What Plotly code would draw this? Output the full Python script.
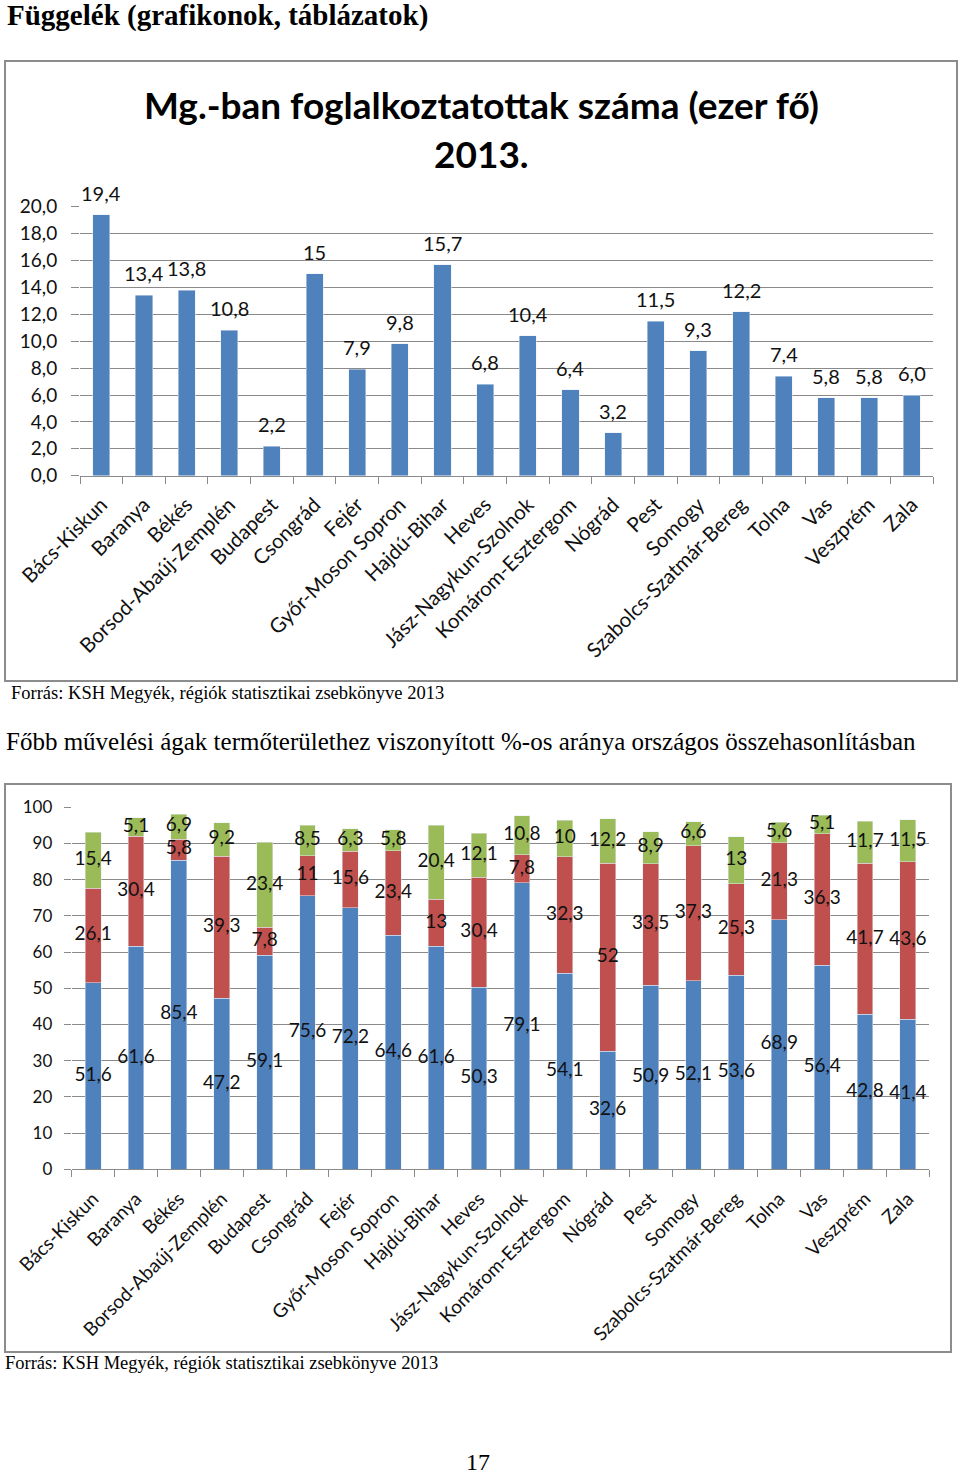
import plotly.graph_objects as go

W, H = 960, 1474

counties = ["Bács-Kiskun", "Baranya", "Békés", "Borsod-Abaúj-Zemplén", "Budapest",
            "Csongrád", "Fejér", "Győr-Moson Sopron", "Hajdú-Bihar", "Heves",
            "Jász-Nagykun-Szolnok", "Komárom-Esztergom", "Nógrád", "Pest", "Somogy",
            "Szabolcs-Szatmár-Bereg", "Tolna", "Vas", "Veszprém", "Zala"]

employed = [19.4, 13.4, 13.8, 10.8, 2.2, 15, 7.9, 9.8, 15.7, 6.8,
            10.4, 6.4, 3.2, 11.5, 9.3, 12.2, 7.4, 5.8, 5.8, 6.0]
employed_labels = ["19,4", "13,4", "13,8", "10,8", "2,2", "15", "7,9", "9,8", "15,7", "6,8",
                   "10,4", "6,4", "3,2", "11,5", "9,3", "12,2", "7,4", "5,8", "5,8", "6,0"]

blue = [51.6, 61.6, 85.4, 47.2, 59.1, 75.6, 72.2, 64.6, 61.6, 50.3,
        79.1, 54.1, 32.6, 50.9, 52.1, 53.6, 68.9, 56.4, 42.8, 41.4]
red = [26.1, 30.4, 5.8, 39.3, 7.8, 11, 15.6, 23.4, 13, 30.4,
       7.8, 32.3, 52, 33.5, 37.3, 25.3, 21.3, 36.3, 41.7, 43.6]
green = [15.4, 5.1, 6.9, 9.2, 23.4, 8.5, 6.3, 5.8, 20.4, 12.1,
         10.8, 10, 12.2, 8.9, 6.6, 13, 5.6, 5.1, 11.7, 11.5]

y1_ticks = [0, 2, 4, 6, 8, 10, 12, 14, 16, 18, 20]
y2_ticks = [0, 10, 20, 30, 40, 50, 60, 70, 80, 90, 100]


def fmt(v):
    s = ("%.1f" % v).rstrip("0").rstrip(".")
    return s.replace(".", ",")


def PX(x):
    return x / W


def PY(y):
    return 1 - y / H


C_BLUE, C_RED, C_GREEN = "#4F81BD", "#C0504D", "#9BBB59"
GRID = "#8a8a8a"
FONT = "Lato"
SERIF = "Liberation Serif"
N = len(counties)

fig = go.Figure()

# Chart 1
fig.add_trace(go.Bar(x=counties, y=employed, marker_color=C_BLUE, width=0.4,
                     xaxis="x", yaxis="y", showlegend=False, hoverinfo="skip"))

# Chart 2 (stacked)
for vals, col in [(blue, C_BLUE), (red, C_RED), (green, C_GREEN)]:
    fig.add_trace(go.Bar(x=counties, y=vals, marker_color=col, width=0.37,
                         xaxis="x2", yaxis="y2", showlegend=False, hoverinfo="skip"))

# Chart 2 segment labels
base = [0.0] * N
for vals in [blue, red, green]:
    mids = [b + v / 2 for b, v in zip(base, vals)]
    fig.add_trace(go.Scatter(x=counties, y=mids, mode="text", text=[fmt(v) for v in vals],
                             textfont=dict(family=FONT, size=19, color="#111"),
                             textposition="middle center", xaxis="x2", yaxis="y2",
                             showlegend=False, hoverinfo="skip", cliponaxis=False))
    base = [b + v for b, v in zip(base, vals)]

annotations = []
for c, v, t in zip(counties, employed, employed_labels):
    annotations.append(dict(x=c, y=v, xref="x", yref="y", text=t, showarrow=False,
                            yanchor="middle", yshift=22,
                            font=dict(family=FONT, size=20, color="#111")))

# Page texts
annotations += [
    dict(x=PX(5), y=PY(15), xref="paper", yref="paper", xanchor="left", yanchor="middle",
         text="<b>Függelék (grafikonok, táblázatok)</b>", showarrow=False,
         font=dict(family=SERIF, size=29, color="#000")),
    dict(x=PX(481), y=PY(104), xref="paper", yref="paper", xanchor="center", yanchor="middle",
         text="<b>Mg.-ban foglalkoztatottak száma (ezer fő)</b>", showarrow=False,
         font=dict(family=FONT, size=37, color="#000")),
    dict(x=PX(481), y=PY(153), xref="paper", yref="paper", xanchor="center", yanchor="middle",
         text="<b>2013.</b>", showarrow=False,
         font=dict(family=FONT, size=37, color="#000")),
    dict(x=PX(9), y=PY(693), xref="paper", yref="paper", xanchor="left", yanchor="middle",
         text="Forrás: KSH Megyék, régiók statisztikai zsebkönyve 2013", showarrow=False,
         font=dict(family=SERIF, size=18.5, color="#000")),
    dict(x=PX(4), y=PY(741), xref="paper", yref="paper", xanchor="left", yanchor="middle",
         text="Főbb művelési ágak termőterülethez viszonyított %-os aránya országos összehasonlításban",
         showarrow=False, font=dict(family=SERIF, size=25, color="#000")),
    dict(x=PX(3), y=PY(1363), xref="paper", yref="paper", xanchor="left", yanchor="middle",
         text="Forrás: KSH Megyék, régiók statisztikai zsebkönyve 2013", showarrow=False,
         font=dict(family=SERIF, size=18.5, color="#000")),
    dict(x=PX(478), y=PY(1462), xref="paper", yref="paper", xanchor="center", yanchor="middle",
         text="17", showarrow=False, font=dict(family=SERIF, size=24, color="#000")),
]

shapes = [
    dict(type="rect", xref="paper", yref="paper", x0=PX(5), x1=PX(957), y0=PY(681), y1=PY(61),
         line=dict(color="#8c8c8c", width=2)),
    dict(type="rect", xref="paper", yref="paper", x0=PX(5), x1=PX(951), y0=PY(1352), y1=PY(784),
         line=dict(color="#8c8c8c", width=2)),
]

fig.update_layout(
    width=W, height=H, margin=dict(l=0, r=0, t=0, b=0, pad=0, autoexpand=False),
    paper_bgcolor="white", plot_bgcolor="white",
    barmode="stack", separators=", ",
    annotations=annotations, shapes=shapes,
    xaxis=dict(domain=[PX(80), PX(933)], anchor="y", type="category", automargin=False,
               range=[-0.5, N - 0.5],
               tickangle=-45, tickfont=dict(family=FONT, size=20.5, color="#111"),
               showline=True, linecolor=GRID, linewidth=1, ticks="outside", ticklen=7,
               tickcolor=GRID, tickson="boundaries", showgrid=False, fixedrange=True,
               ticklabelstandoff=8),
    yaxis=dict(domain=[PY(475.7), PY(206.7)], anchor="x", range=[0, 20], automargin=False,
               tickvals=y1_ticks, tickformat=".1f",
               tickfont=dict(family=FONT, size=19, color="#111"),
               showgrid=True, gridcolor=GRID, gridwidth=1, zeroline=False,
               showline=False, ticks="outside", ticklen=8, tickcolor=GRID,
               ticklabelstandoff=10, fixedrange=True),
    xaxis2=dict(domain=[PX(71.7), PX(929.3)], anchor="y2", type="category", automargin=False,
                range=[-0.5, N - 0.5],
                tickangle=-45, tickfont=dict(family=FONT, size=19, color="#111"),
                showline=True, linecolor=GRID, linewidth=1, ticks="outside", ticklen=7,
                tickcolor=GRID, tickson="boundaries", showgrid=False, fixedrange=True,
                ticklabelstandoff=10),
    yaxis2=dict(domain=[PY(1169.3), PY(807.3)], anchor="x2", range=[0, 100], automargin=False,
                tickvals=y2_ticks,
                tickfont=dict(family=FONT, size=17, color="#111"),
                showgrid=True, gridcolor=GRID, gridwidth=1, zeroline=False,
                showline=False, ticks="outside", ticklen=7, tickcolor=GRID,
                ticklabelstandoff=8, fixedrange=True),
)

fig.write_html("out.html", config={"displayModeBar": False},
               post_script="document.body.style.margin='0';")
